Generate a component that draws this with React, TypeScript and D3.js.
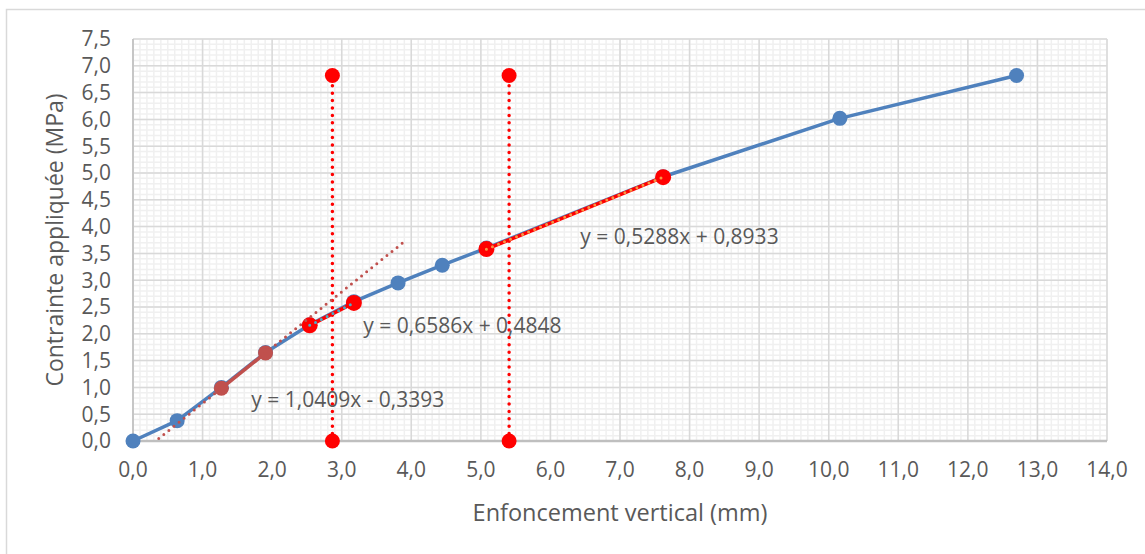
import React from 'react';
import * as d3 from 'd3';

// ---- data ----
const penetration = [0, 0.635, 1.27, 1.905, 2.54, 3.175, 3.81, 4.445, 5.08, 7.62, 10.16, 12.7];
const stress = [0, 0.38, 1.0, 1.65, 2.17, 2.6, 2.95, 3.28, 3.6, 4.93, 6.02, 6.82];

const seg1X = [1.27, 1.905];
const seg1Y = [0.983, 1.644];
const seg2X = [2.54, 3.175];
const seg2Y = [2.158, 2.576];
const seg3X = [5.08, 7.62];
const seg3Y = [3.58, 4.923];

const trendSlopes = [1.0409, 0.6586, 0.5288];
const trendIntercepts = [-0.3393, 0.4848, 0.8933];
const trendLabels = ['y = 1,0409x - 0,3393', 'y = 0,6586x + 0,4848', 'y = 0,5288x + 0,8933'];
const trendFrom = [0.37, 2.54, 5.08];
const trendTo = [3.905, 3.175, 7.62];
const trendLabelX = [1.7, 3.31, 6.43];
const trendLabelY = [0.765, 2.15, 3.82];

const correctedX = [2.866, 5.406];
const verticalY = [0, 6.82];

const xTicks = d3.range(0, 14.001, 1);
const yTicks = d3.range(0, 7.501, 0.5);
const xMinor = d3.range(0, 14.001, 0.1);
const yMinor = d3.range(0, 7.501, 0.1);

const xTitle = 'Enfoncement vertical (mm)';
const yTitle = 'Contrainte appliquée (MPa)';

// ---- layout ----
const W = 1145;
const H = 554;
const M = { left: 133, right: 1107, top: 39, bottom: 441 };
const FONT = "'Open Sans', 'Noto Sans', sans-serif";
const TEXT = '#595959';

const BLUE = '#4f81bd';
const BROWN = '#c0504d';
const RED = '#ff0000';
const TEAL = '#4bacc6';
const ORANGE = '#f79646';

const fmt = (v: number) => d3.format('.1f')(v).replace('.', ',');

export default function App() {
  const x = d3.scaleLinear().domain([0, 14]).range([M.left, M.right]);
  const y = d3.scaleLinear().domain([0, 7.5]).range([M.bottom, M.top]);
  const line = d3
    .line<[number, number]>()
    .x((d) => x(d[0]))
    .y((d) => y(d[1]));

  const mainPts: [number, number][] = penetration.map((p, i) => [p, stress[i]]);
  const s1: [number, number][] = seg1X.map((p, i) => [p, seg1Y[i]]);
  const s2: [number, number][] = seg2X.map((p, i) => [p, seg2Y[i]]);
  const s3: [number, number][] = seg3X.map((p, i) => [p, seg3Y[i]]);
  const trendColors = [BROWN, TEAL, ORANGE];

  return (
    <svg width={W} height={H} style={{ position: 'absolute', left: 0, top: 0, background: '#fff' }}>
      <rect x={6.5} y={9.5} width={1300} height={700} fill="#fff" stroke="#d9d9d9" strokeWidth={1.5} />
      {/* minor grid */}
      <g stroke="#f0f0f0" strokeWidth={1.5}>
        {xMinor.map((v, i) => (
          <line key={'xm' + i} x1={x(v)} x2={x(v)} y1={y(0)} y2={y(7.5)} />
        ))}
        {yMinor.map((v, i) => (
          <line key={'ym' + i} x1={x(0)} x2={x(14)} y1={y(v)} y2={y(v)} />
        ))}
      </g>
      {/* major grid */}
      <g stroke="#d9d9d9" strokeWidth={1.5}>
        {xTicks.map((v, i) => (
          <line key={'xg' + i} x1={x(v)} x2={x(v)} y1={y(0)} y2={y(7.5)} />
        ))}
        {yTicks.map((v, i) => (
          <line key={'yg' + i} x1={x(0)} x2={x(14)} y1={y(v)} y2={y(v)} />
        ))}
      </g>
      {/* axes */}
      <line x1={x(0)} x2={x(0)} y1={y(0)} y2={y(7.5)} stroke="#c6c6c6" strokeWidth={2} />
      <line x1={x(0)} x2={x(14)} y1={y(0)} y2={y(0)} stroke="#bfbfbf" strokeWidth={2.5} />

      {/* tick labels */}
      <g fontFamily={FONT} fontSize={21} fill={TEXT}>
        {yTicks.map((v, i) => (
          <text key={'yl' + i} x={x(0) - 22} y={y(v)} dy="0.35em" textAnchor="end">
            {fmt(v)}
          </text>
        ))}
        {xTicks.map((v, i) => (
          <text key={'xl' + i} x={x(v)} y={y(0) + 29} dy="0.35em" textAnchor="middle">
            {fmt(v)}
          </text>
        ))}
      </g>
      {/* axis titles */}
      <text
        x={(M.left + M.right) / 2}
        y={521}
        textAnchor="middle"
        fontFamily={FONT}
        fontSize={23.5}
        fill={TEXT}
      >
        {xTitle}
      </text>
      <text
        transform={`translate(63, ${(M.top + M.bottom) / 2}) rotate(-90)`}
        textAnchor="middle"
        fontFamily={FONT}
        fontSize={23}
        fill={TEXT}
      >
        {yTitle}
      </text>

      {/* main series */}
      <path d={line(mainPts) || ''} fill="none" stroke={BLUE} strokeWidth={3.5} strokeLinejoin="round" />
      {mainPts.map((d, i) => (
        <circle key={'mp' + i} cx={x(d[0])} cy={y(d[1])} r={7.5} fill={BLUE} />
      ))}

      {/* segment 1 */}
      <path d={line(s1) || ''} fill="none" stroke={BROWN} strokeWidth={3.5} />
      {s1.map((d, i) => (
        <circle key={'s1' + i} cx={x(d[0])} cy={y(d[1])} r={7.5} fill={BROWN} />
      ))}
      {/* segment 2 */}
      <path d={line(s2) || ''} fill="none" stroke={RED} strokeWidth={3.5} />
      {s2.map((d, i) => (
        <circle key={'s2' + i} cx={x(d[0])} cy={y(d[1])} r={8} fill={RED} />
      ))}
      {/* segment 3 */}
      <path d={line(s3) || ''} fill="none" stroke={RED} strokeWidth={3.5} />
      {s3.map((d, i) => (
        <circle key={'s3' + i} cx={x(d[0])} cy={y(d[1])} r={8} fill={RED} />
      ))}

      {/* corrected verticals */}
      {correctedX.map((cx, k) => {
        const pts: [number, number][] = verticalY.map((v) => [cx, v]);
        return (
          <g key={'v' + k}>
            <path
              d={line(pts) || ''}
              fill="none"
              stroke={RED}
              strokeWidth={3.5}
              strokeLinecap="round"
              strokeDasharray="0 7.4"
            />
            {pts.map((d, i) => (
              <circle key={'vp' + i} cx={x(d[0])} cy={y(d[1])} r={7.5} fill={RED} />
            ))}
          </g>
        );
      })}

      {/* trendlines */}
      {trendSlopes.map((m, k) => {
        const pts: [number, number][] = [trendFrom[k], trendTo[k]].map((v) => [v, m * v + trendIntercepts[k]]);
        return (
          <path
            key={'t' + k}
            d={line(pts) || ''}
            fill="none"
            stroke={trendColors[k]}
            strokeWidth={3}
            strokeLinecap="round"
            strokeDasharray="0 6.5"
          />
        );
      })}

      {/* trend labels */}
      <g fontFamily={FONT} fontSize={21} fill={TEXT}>
        {trendLabels.map((t, k) => (
          <text key={'tl' + k} x={x(trendLabelX[k])} y={y(trendLabelY[k])} dy="0.35em">
            {t}
          </text>
        ))}
      </g>
    </svg>
  );
}
